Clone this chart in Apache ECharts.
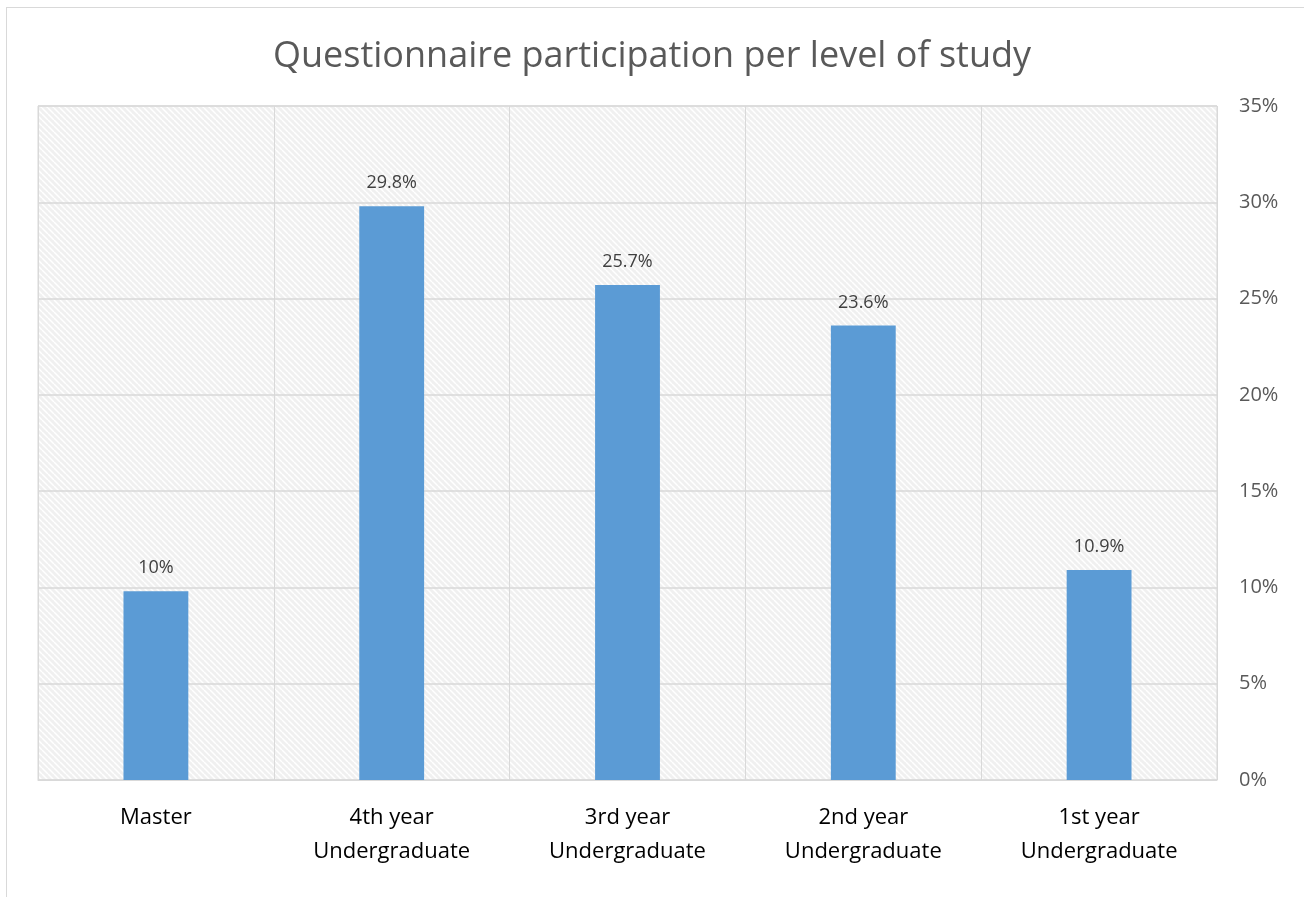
<!DOCTYPE html>
<html>
<head>
<meta charset="utf-8">
<script src="https://cdn.jsdelivr.net/npm/echarts@6/dist/echarts.min.js"></script>
<style>
  html, body { margin: 0; padding: 0; background: #fff; }
  #frame { position: absolute; left: 6px; top: 7px; width: 1310px; height: 900px; border: 1px solid #d9d9d9; box-sizing: border-box; }
  #main { position: absolute; left: 0; top: 0; width: 1304px; height: 897px; }
</style>
</head>
<body>
<div id="frame"></div>
<div id="main"></div>
<script>
// chart data
var categories = ['Master', '4th year\nUndergraduate', '3rd year\nUndergraduate', '2nd year\nUndergraduate', '1st year\nUndergraduate']
var values = [9.8, 29.8, 25.7, 23.6, 10.9]
var valueLabels = ['10%', '29.8%', '25.7%', '23.6%', '10.9%']
var yTicks = [0, 5, 10, 15, 20, 25, 30, 35]

// hatched background for the plot area
var hatch = document.createElement('canvas')
hatch.width = 6
hatch.height = 6
var ctx = hatch.getContext('2d')
ctx.fillStyle = '#f0f0f0'
ctx.fillRect(0, 0, 6, 6)
ctx.strokeStyle = '#ffffff'
ctx.lineWidth = 1.5
ctx.beginPath()
for (var k = -6; k <= 12; k += 6) {
  ctx.moveTo(k, 0)
  ctx.lineTo(k + 6, 6)
}
ctx.stroke()

var myChart = echarts.init(document.getElementById('main'))

var option = {
  animation: false,
  title: {
    text: 'Questionnaire participation per level of study',
    left: 'center',
    top: 34,
    textStyle: {
      fontFamily: 'Open Sans',
      fontWeight: 'normal',
      fontSize: 36,
      color: '#595959'
    }
  },
  grid: {
    left: 38,
    right: 87,
    top: 106,
    bottom: 117,
    show: true,
    borderColor: '#d9d9d9',
    borderWidth: 1,
    backgroundColor: { image: hatch, repeat: 'repeat' }
  },
  xAxis: {
    type: 'category',
    data: categories,
    axisLine: { show: true, lineStyle: { color: '#d9d9d9' } },
    axisTick: { show: false },
    splitLine: { show: true, lineStyle: { color: '#d9d9d9', width: 1 } },
    axisLabel: {
      color: '#000',
      fontFamily: 'Open Sans',
      fontSize: 22,
      lineHeight: 34,
      margin: 21
    }
  },
  yAxis: {
    type: 'value',
    position: 'right',
    min: 0,
    max: 35,
    interval: 5,
    axisLine: { show: false },
    axisTick: { show: false },
    splitLine: { lineStyle: { color: '#d9d9d9', width: 1.5 } },
    axisLabel: {
      color: '#595959',
      fontFamily: 'Open Sans',
      fontSize: 20,
      margin: 22,
      formatter: function (v) {
        return yTicks.indexOf(v) >= 0 ? v + '%' : ''
      }
    }
  },
  series: [{
    type: 'bar',
    data: values,
    barWidth: '27.5%',
    itemStyle: { color: '#5b9bd5' },
    label: {
      show: true,
      position: 'top',
      distance: 14,
      color: '#404040',
      fontFamily: 'Open Sans',
      fontSize: 18,
      formatter: function (p) {
        return valueLabels[p.dataIndex]
      }
    }
  }]
}

myChart.setOption(option)

window.onresize = function () {
  myChart.resize()
}
</script>
</body>
</html>
